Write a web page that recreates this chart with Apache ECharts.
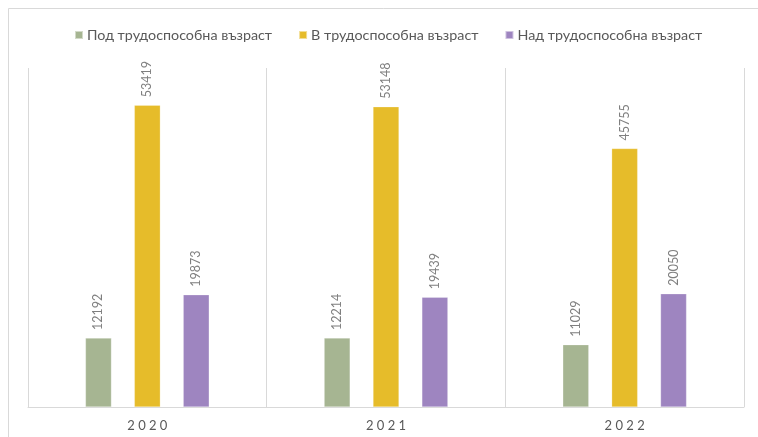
<!DOCTYPE html>
<html>
<head>
<meta charset="utf-8">
<script src="https://cdn.jsdelivr.net/npm/echarts@6/dist/echarts.min.js"></script>
<style>
html,body{margin:0;padding:0;background:#fff;}
#c{width:758px;height:437px;}
</style>
</head>
<body>
<div id="c"></div>
<script>
var categories = ['2020', '2021', '2022'];
var seriesNames = ['Под трудоспособна възраст', 'В трудоспособна възраст', 'Над трудоспособна възраст'];
var underWorkingAge = [12192, 12214, 11029];
var workingAge = [53419, 53148, 45755];
var overWorkingAge = [19873, 19439, 20050];
var colors = ['#A6B592', '#E6BC2A', '#9E85C0'];

var chart = echarts.init(document.getElementById('c'), null, {renderer: 'canvas'});
var FONT = 'Lato, "Open Sans", sans-serif';

function mk(name, data, color) {
  return {
    name: name,
    type: 'bar',
    data: data,
    barWidth: 26,
    barGap: '88%',
    itemStyle: {color: color, borderColor: 'rgba(255,255,255,0.5)', borderWidth: 0.5},
    label: {
      show: true,
      position: 'top',
      rotate: 90,
      align: 'left',
      verticalAlign: 'middle',
      distance: 8,
      color: '#7f7f7f',
      fontFamily: FONT,
      fontSize: 12.5
    }
  };
}

chart.setOption({
  animation: false,
  backgroundColor: '#fff',
  graphic: [{
    type: 'rect',
    shape: {x: 8.5, y: 8.5, width: 900, height: 900},
    style: {fill: 'none', stroke: '#d9d9d9', lineWidth: 1},
    silent: true
  }],
  color: colors,
  legend: {
    left: 69,
    top: 23,
    itemWidth: 8,
    itemHeight: 8,
    itemGap: 26,
    icon: 'rect',
    textStyle: {color: '#595959', fontFamily: FONT, fontSize: 14.3, padding: [0, 0, 0, -1]},
    data: seriesNames
  },
  grid: {left: 28, right: 14, top: 68, bottom: 30, containLabel: false},
  xAxis: {
    type: 'category',
    data: categories,
    axisLine: {lineStyle: {color: '#d9d9d9', width: 1}},
    axisTick: {show: false},
    splitLine: {show: true, lineStyle: {color: '#d9d9d9', width: 1}},
    axisLabel: {
      color: '#595959',
      fontFamily: FONT,
      fontSize: 13,
      margin: 12,
      formatter: function (v) { return v.split('').join(' '); }
    }
  },
  yAxis: {
    type: 'value',
    min: 0,
    max: 60000,
    interval: 10000,
    show: false,
    splitLine: {show: false}
  },
  series: [
    mk(seriesNames[0], underWorkingAge, colors[0]),
    mk(seriesNames[1], workingAge, colors[1]),
    mk(seriesNames[2], overWorkingAge, colors[2])
  ]
});
</script>
</body>
</html>
